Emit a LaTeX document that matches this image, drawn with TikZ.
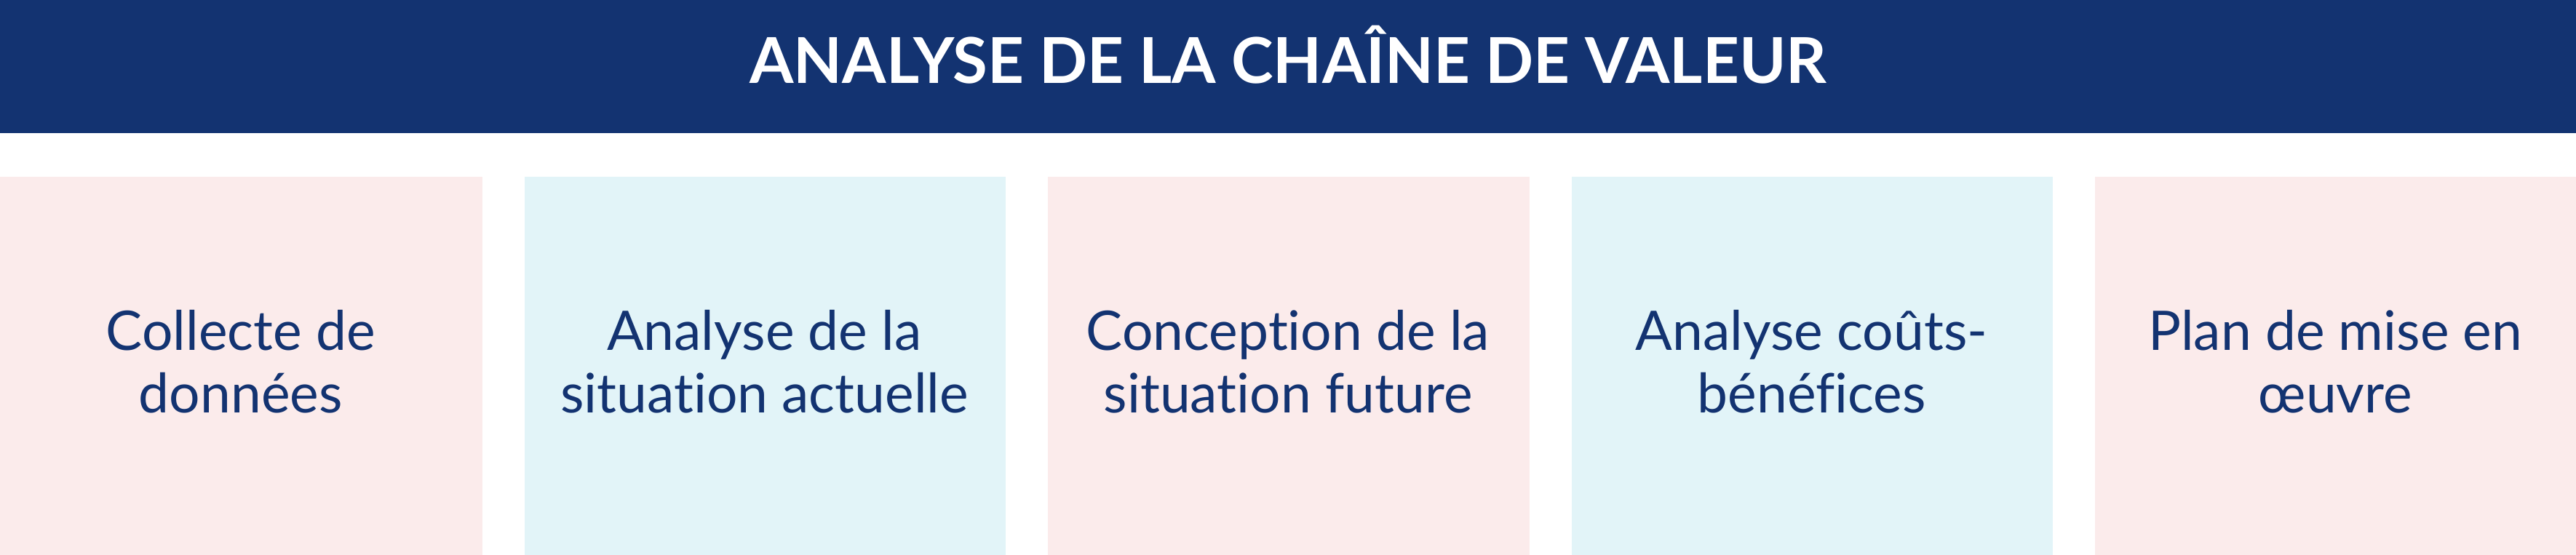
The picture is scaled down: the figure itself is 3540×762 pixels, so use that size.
\documentclass[tikz,border=0pt]{standalone}
\usepackage{fontspec}
\setmainfont[Ligatures=NoCommon]{Lato}
\definecolor{navy}{HTML}{133371}
\definecolor{rosebg}{HTML}{FBEBEB}
\definecolor{cyanbg}{HTML}{E2F4F8}
\begin{document}
\begin{tikzpicture}[x=0.2pt,y=-0.2pt,
  header/.style={fill=navy,draw=none,inner sep=0pt,anchor=north west,minimum width=712pt,minimum height=38.4pt},
  titletext/.style={text=white,font=\fontsize{17.4}{20}\selectfont\bfseries,anchor=base,inner sep=0pt},
  card/.style={draw=none,inner sep=0pt,anchor=north west,minimum width=132.32pt,minimum height=106pt},
  pinkcard/.style={card,fill=rosebg},
  bluecard/.style={card,fill=cyanbg},
  line/.style={text=navy,font=\fontsize{15}{17.3}\selectfont,anchor=base,inner sep=0pt}]
\useasboundingbox (0,0) rectangle (3540,762);
\node[header] (head) at (-10,-10) {};
\node[titletext] (title) at (1770,114) {ANALYSE DE LA CHAÎNE DE VALEUR};
% cards
\node[pinkcard,minimum width=134.32pt] (c1) at (-10,242) {};
\node[bluecard] (c2) at (719.6,242) {};
\node[pinkcard] (c3) at (1439.2,242) {};
\node[bluecard] (c4) at (2158.8,242) {};
\node[pinkcard,minimum width=134.32pt] (c5) at (2878.4,242) {};
% texts
\node[line] (t1a) at (330.8,481) {Collecte de};
\node[line] (t1b) at (330.8,567) {données};
\node[line] (t2a) at (1050.4,481) {Analyse de la};
\node[line] (t2b) at (1050.4,567) {situation actuelle};
\node[line] (t3a) at (1770,481) {Conception de la};
\node[line] (t3b) at (1770,567) {situation future};
\node[line] (t4a) at (2489.6,481) {Analyse coûts-};
\node[line] (t4b) at (2489.6,567) {bénéfices};
\node[line] (t5a) at (3209.2,481) {Plan de mise en};
\node[line] (t5b) at (3209.2,567) {œuvre};
\end{tikzpicture}
\end{document}
